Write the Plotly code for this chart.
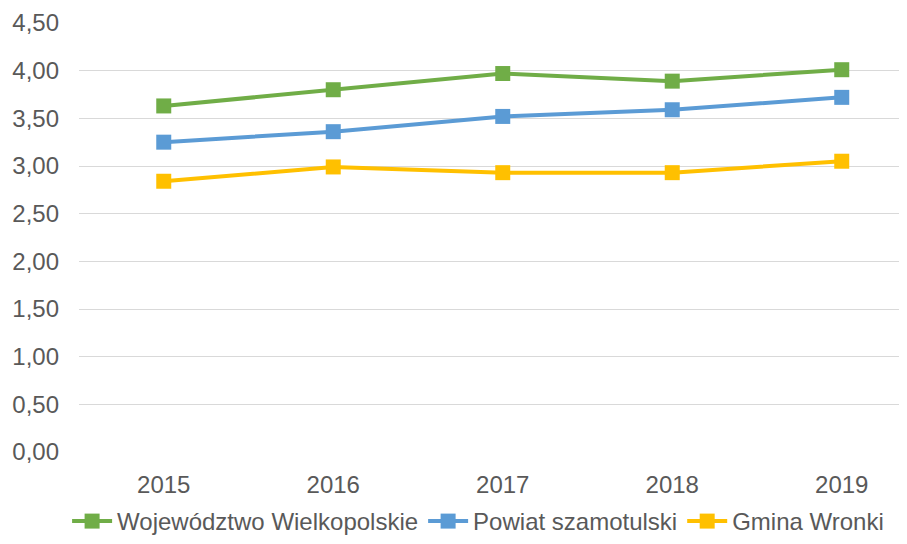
import plotly.graph_objects as go

years = ["2015", "2016", "2017", "2018", "2019"]
woj = [3.63, 3.80, 3.97, 3.89, 4.01]
powiat = [3.25, 3.36, 3.52, 3.59, 3.72]
gmina = [2.84, 2.99, 2.93, 2.93, 3.05]

names = ["Województwo Wielkopolskie", "Powiat szamotulski", "Gmina Wronki"]
colors = ["#70ad47", "#5b9bd5", "#ffc000"]

fig = go.Figure()
for name, vals, col in zip(names, [woj, powiat, gmina], colors):
    fig.add_trace(go.Scatter(
        x=years, y=vals, name=name, mode="lines+markers",
        line=dict(color=col, width=4),
        marker=dict(symbol="square", size=15, color=col),
    ))

fig.update_layout(
    width=899, height=536,
    margin=dict(l=71, r=0, t=15, b=92),
    paper_bgcolor="white", plot_bgcolor="white",
    separators=", ",
    font=dict(family="Liberation Sans, Arial, sans-serif", size=24, color="#595959"),
    showlegend=True,
    legend=dict(orientation="h", x=0.482, xanchor="center",
                yref="container", y=0.0, yanchor="bottom",
                font=dict(size=24, color="#595959"), itemwidth=40, tracegroupgap=0),
    xaxis=dict(type="category", range=[-0.5, 4.385], showgrid=False, showline=False,
               zeroline=False, ticks="", ticklabelstandoff=16),
    yaxis=dict(range=[0, 4.5], dtick=0.5, tick0=0, tickformat=".2f",
               showgrid=True, gridcolor="#d9d9d9", gridwidth=1.3,
               zeroline=False, showline=False, ticks="", ticklabelstandoff=19),
)

fig.write_html("out.html")
